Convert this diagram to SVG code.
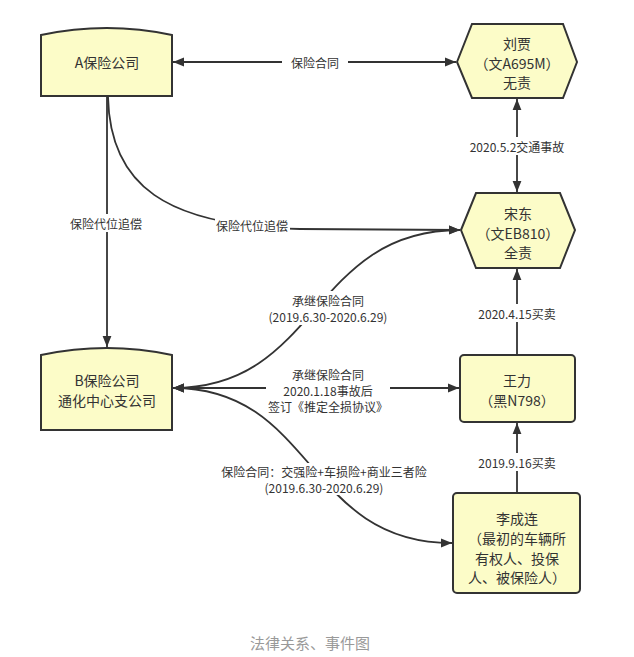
<svg xmlns="http://www.w3.org/2000/svg" width="634" height="657" viewBox="0 0 634 657">
<style>
.node{fill:#fcfcc8;stroke:#333;stroke-width:2;}
.nt{font-family:"Noto Sans CJK SC","Noto Sans",sans-serif;font-size:14px;fill:#333;text-anchor:middle;dominant-baseline:central;}
.lt{font-family:"Noto Sans CJK SC","Noto Sans",sans-serif;font-size:12px;fill:#333;text-anchor:middle;dominant-baseline:central;}
.ln{fill:none;stroke:#333;stroke-width:1.8;}
.bg{fill:#fff;}
.cap{font-family:"Noto Sans CJK SC","Noto Sans",sans-serif;font-size:15px;fill:#999;text-anchor:middle;dominant-baseline:central;}
</style>
<defs>
<marker id="ar" viewBox="0 0 10 10" refX="10" refY="5" markerWidth="11" markerHeight="11" markerUnits="userSpaceOnUse" orient="auto-start-reverse">
<path d="M0,1 L10,5 L0,9 z" fill="#333"/>
</marker>
</defs>
<rect width="634" height="657" fill="#fff"/>
<g id="connectors">
<path class="ln" d="M173,62 L456,62" marker-start="url(#ar)" marker-end="url(#ar)"/>
<path class="ln" d="M517,99 L517,192" marker-start="url(#ar)" marker-end="url(#ar)"/>
<path class="ln" d="M107,97 L107,347" marker-end="url(#ar)"/>
<path class="ln" d="M108,97 C110,185 165,226 300,229 L460,230" marker-end="url(#ar)"/>
<path class="ln" d="M173,388 C320,388 310,230 460,230" marker-start="url(#ar)" marker-end="url(#ar)"/>
<path class="ln" d="M173,388 L459,388" marker-start="url(#ar)" marker-end="url(#ar)"/>
<path class="ln" d="M173,388 C315,388 305,543 452,543" marker-start="url(#ar)" marker-end="url(#ar)"/>
<path class="ln" d="M517,354 L517,269" marker-end="url(#ar)"/>
<path class="ln" d="M517,493 L517,423" marker-end="url(#ar)"/>
<g id="labels">
<rect class="bg" x="282" y="53" width="66" height="18"/>
<text class="lt" x="315" y="62">保险合同</text>
<rect class="bg" x="467" y="137" width="100" height="18"/>
<text class="lt" x="517" y="146">2020.5.2交通事故</text>
<rect class="bg" x="69" y="214" width="76" height="18"/>
<text class="lt" x="106" y="223">保险代位追偿</text>
<rect class="bg" x="215" y="216" width="75" height="18"/>
<text class="lt" x="252" y="225">保险代位追偿</text>
<rect class="bg" x="470" y="304" width="94" height="18"/>
<text class="lt" x="517" y="313">2020.4.15买卖</text>
<rect class="bg" x="470" y="453" width="94" height="18"/>
<text class="lt" x="517" y="462">2019.9.16买卖</text>
<rect class="bg" x="262" y="291" width="134" height="34"/>
<text class="lt" x="328" y="300">承继保险合同</text>
<text class="lt" x="328" y="316">(2019.6.30-2020.6.29)</text>
<rect class="bg" x="266" y="365" width="124" height="50"/>
<text class="lt" x="328" y="374">承继保险合同</text>
<text class="lt" x="328" y="390">2020.1.18事故后</text>
<text class="lt" x="328" y="406">签订《推定全损协议》</text>
<rect class="bg" x="216" y="463" width="216" height="32"/>
<text class="lt" x="324" y="471">保险合同：交强险+车损险+商业三者险</text>
<text class="lt" x="324" y="487">(2019.6.30-2020.6.29)</text>
</g>
</g>
<g id="nodeA">
<path class="node" d="M41,35 Q107,21 172,35 L172,96 L41,96 Z"/>
<text class="nt" x="107" y="62">A保险公司</text>
</g>
<g id="nodeLiuJia">
<path class="node" d="M457,62 L472,24 L563,24 L577,62 L563,98 L472,98 Z"/>
<text class="nt" x="517" y="43">刘贾</text>
<text class="nt" x="517" y="63">（文A695M）</text>
<text class="nt" x="517" y="82">无责</text>
</g>
<g id="nodeSongDong">
<path class="node" d="M461,230 L476,193 L560,193 L575,230 L560,268 L476,268 Z"/>
<text class="nt" x="518" y="213">宋东</text>
<text class="nt" x="518" y="233">（文EB810）</text>
<text class="nt" x="518" y="252">全责</text>
</g>
<g id="nodeB">
<path class="node" d="M41,355 Q107,341 172,355 L172,430 L41,430 Z"/>
<text class="nt" x="107" y="380">B保险公司</text>
<text class="nt" x="107" y="400">通化中心支公司</text>
</g>
<g id="nodeWangLi">
<rect class="node" x="460" y="355" width="115" height="67" rx="4"/>
<text class="nt" x="517" y="380">王力</text>
<text class="nt" x="517" y="400">（黑N798）</text>
</g>
<g id="nodeLi">
<rect class="node" x="453" y="493" width="127" height="100" rx="4"/>
<text class="nt" x="517" y="518">李成连</text>
<text class="nt" x="517" y="538">（最初的车辆所</text>
<text class="nt" x="517" y="558">有权人、投保</text>
<text class="nt" x="517" y="577">人、被保险人）</text>
</g>
<text class="cap" x="310" y="642">法律关系、事件图</text>
</svg>
